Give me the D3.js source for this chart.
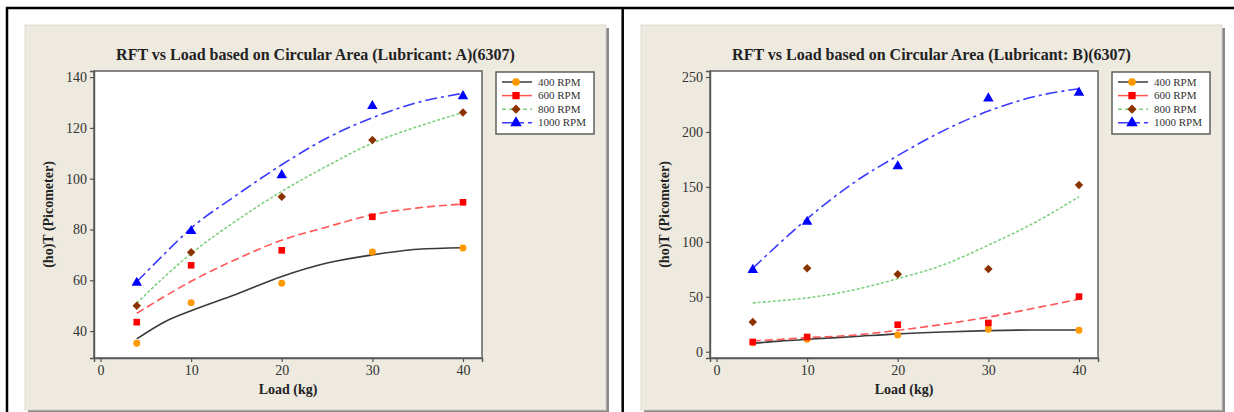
<!DOCTYPE html>
<html>
<head>
<meta charset="utf-8">
<title>RFT vs Load</title>
<script src="https://d3js.org/d3.v7.min.js"></script>
<style>
  body { margin: 0; background: #fff; }
  svg { display: block; }
  text { font-family: "Liberation Serif", "DejaVu Serif", serif; }
</style>
</head>
<body>
<svg id="chart" width="1234" height="412"></svg>
<script>
// x values (load in kg) of the measured points
var loads = [4, 10, 20, 30, 40];
var rpmLabels = ["400 RPM", "600 RPM", "800 RPM", "1000 RPM"];
var xTicks = [0, 10, 20, 30, 40];

// Lubricant A - measured points
var a400 = [35.2, 51.2, 58.8, 71.1, 72.7];
var a600 = [43.5, 65.9, 71.8, 85.0, 90.7];
var a800 = [50.0, 71.0, 92.9, 115.2, 126.1];
var a1000 = [59.0, 79.4, 101.4, 128.6, 132.5];

// fitted curves at these loads
var fitLoads = [4, 7, 10, 15, 20, 25, 30, 35, 40];
var aFit400 = [36.9, 43.5, 48.0, 54.5, 61.5, 66.8, 70.0, 72.2, 72.8];
var aFit600 = [47.0, 53.5, 59.6, 68.3, 75.8, 81.0, 85.8, 88.5, 90.0];
var aFit800 = [51.0, 61.2, 70.5, 83.5, 95.0, 105.0, 114.0, 120.5, 126.0];
var aFit1000 = [59.4, 70.2, 80.5, 93.5, 105.5, 116.0, 124.0, 130.0, 133.6];
var aTicks = [40, 60, 80, 100, 120, 140];

// Lubricant B - measured points
var b400 = [8.2, 11.3, 15.2, 20.4, 19.5];
var b600 = [8.9, 13.4, 24.6, 26.2, 50.2];
var b800 = [27.1, 76.0, 70.6, 75.2, 151.8];
var b1000 = [74.5, 118.3, 168.8, 230.6, 235.8];

var bFit400 = [7.6, 9.7, 11.3, 13.7, 16.3, 18.0, 19.2, 19.8, 19.8];
var bFit600 = [9.8, 11.2, 12.8, 15.0, 19.5, 25.0, 31.5, 39.5, 47.8];
var bFit800 = [44.5, 46.5, 49.0, 56.0, 66.5, 79.0, 97.0, 117.0, 141.0];
var bFit1000 = [76.0, 99.0, 121.0, 153.0, 178.5, 201.0, 219.0, 232.0, 239.4];
var bTicks = [0, 50, 100, 150, 200, 250];

// styles per series (diamond = square turned 45 degrees)
var styles = [
  {marker: d3.symbolCircle, size: 38, rot: 0, fill: "#ff9900", line: "#3a3a3a", dash: null, legendDash: null},
  {marker: d3.symbolSquare, size: 44, rot: 0, fill: "#ff0000", line: "#ff5555", dash: "8,4", legendDash: null},
  {marker: d3.symbolSquare, size: 36, rot: 45, fill: "#8b3300", line: "#7ed07e", dash: "3,2", legendDash: "4,3"},
  {marker: d3.symbolTriangle, size: 48, rot: 0, fill: "#0000ff", line: "#3a3aff", dash: "12,4,3,4", legendDash: "22,4,4,4"}
];

var svg = d3.select("#chart");

// outer table lines
svg.append("line").attr("x1", 6).attr("x2", 1234).attr("y1", 8).attr("y2", 8)
  .attr("stroke", "#000").attr("stroke-width", 2.5);
svg.append("line").attr("x1", 7).attr("x2", 7).attr("y1", 7).attr("y2", 412)
  .attr("stroke", "#000").attr("stroke-width", 2.5);
svg.append("line").attr("x1", 622.7).attr("x2", 622.7).attr("y1", 7).attr("y2", 412)
  .attr("stroke", "#000").attr("stroke-width", 2.5);

function drawPanel(px, title, points, fits, yDomain, yTicks) {
  var pw = 581, ph = 385;
  var g = svg.append("g").attr("transform", "translate(" + px + ",25)");

  // shadow + panel
  g.append("rect").attr("x", 3).attr("y", 3).attr("width", pw).attr("height", ph)
    .attr("fill", "#8a8a8a");
  g.append("rect").attr("width", pw).attr("height", ph)
    .attr("fill", "#eeeae0").attr("stroke", "#d8d4cc").attr("stroke-width", 0.8);

  g.append("text")
    .attr("x", pw / 2).attr("y", 35)
    .attr("text-anchor", "middle")
    .style("font-size", "16px").style("font-weight", "bold").attr("fill", "#222")
    .text(title);

  var left = 69, right = 457, top = 46, bottom = 333;
  var x = d3.scaleLinear().domain([-0.72, 42.1]).range([left, right]);
  var y = d3.scaleLinear().domain(yDomain).range([bottom, top]);

  g.append("rect").attr("x", left).attr("y", top)
    .attr("width", right - left).attr("height", bottom - top)
    .attr("fill", "#fff").attr("stroke", "#555").attr("stroke-width", 1.4);

  var xAxis = g.append("g").attr("transform", "translate(0," + bottom + ")")
    .call(d3.axisBottom(x).tickValues(xTicks).tickSize(4).tickPadding(3));
  var yAxis = g.append("g").attr("transform", "translate(" + left + ",0)")
    .call(d3.axisLeft(y).tickValues(yTicks).tickSize(4).tickPadding(3));
  [xAxis, yAxis].forEach(function(ax) {
    ax.select(".domain").attr("stroke", "#555").attr("stroke-width", 1.4);
    ax.selectAll(".tick line").attr("stroke", "#555").attr("stroke-width", 1.2);
    ax.selectAll(".tick text").attr("fill", "#333")
      .style("font-size", "14px").style("font-family", "Liberation Serif, serif");
  });

  g.append("text")
    .attr("x", (left + right) / 2).attr("y", 369)
    .attr("text-anchor", "middle")
    .style("font-size", "14px").style("font-weight", "bold").attr("fill", "#222")
    .text("Load (kg)");
  g.append("text")
    .attr("transform", "translate(28," + ((top + bottom) / 2) + ") rotate(-90)")
    .attr("text-anchor", "middle")
    .style("font-size", "14px").style("font-weight", "bold").attr("fill", "#222")
    .text("(ho)T (Picometer)");

  var line = d3.line()
    .x(function(d) { return x(d[0]); })
    .y(function(d) { return y(d[1]); })
    .curve(d3.curveMonotoneX);

  fits.forEach(function(vals, i) {
    var s = styles[i];
    g.append("path")
      .datum(fitLoads.map(function(l, j) { return [l, vals[j]]; }))
      .attr("d", line)
      .attr("fill", "none")
      .attr("stroke", s.line)
      .attr("stroke-width", 1.6)
      .attr("stroke-dasharray", s.dash);
  });

  points.forEach(function(vals, i) {
    var s = styles[i];
    g.selectAll(null)
      .data(loads.map(function(l, j) { return [l, vals[j]]; }))
      .enter().append("path")
      .attr("d", d3.symbol().type(s.marker).size(s.size))
      .attr("transform", function(d) {
        return "translate(" + x(d[0]) + "," + y(d[1]) + ") rotate(" + s.rot + ")";
      })
      .attr("fill", s.fill);
  });

  // legend
  var lg = g.append("g").attr("transform", "translate(471,47)");
  lg.append("rect").attr("width", 98).attr("height", 62)
    .attr("fill", "#fff").attr("stroke", "#555").attr("stroke-width", 1.4);
  rpmLabels.forEach(function(lab, i) {
    var s = styles[i];
    var ly = 10 + i * 13.6;
    lg.append("line").attr("x1", 6).attr("x2", 36).attr("y1", ly).attr("y2", ly)
      .attr("stroke", s.line).attr("stroke-width", 1.5)
      .attr("stroke-dasharray", s.legendDash);
    lg.append("path")
      .attr("d", d3.symbol().type(s.marker).size(s.size * 1.2))
      .attr("transform", "translate(20," + ly + ") rotate(" + s.rot + ")")
      .attr("fill", s.fill);
    lg.append("text").attr("x", 42).attr("y", ly + 3.5)
      .style("font-size", "11px").attr("fill", "#333")
      .text(lab);
  });
}

drawPanel(25, "RFT vs Load based on Circular Area (Lubricant: A)(6307)",
  [a400, a600, a800, a1000], [aFit400, aFit600, aFit800, aFit1000],
  [29.4, 142.4], aTicks);
drawPanel(641, "RFT vs Load based on Circular Area (Lubricant: B)(6307)",
  [b400, b600, b800, b1000], [bFit400, bFit600, bFit800, bFit1000],
  [-5.7, 255.5], bTicks);
</script>
</body>
</html>
